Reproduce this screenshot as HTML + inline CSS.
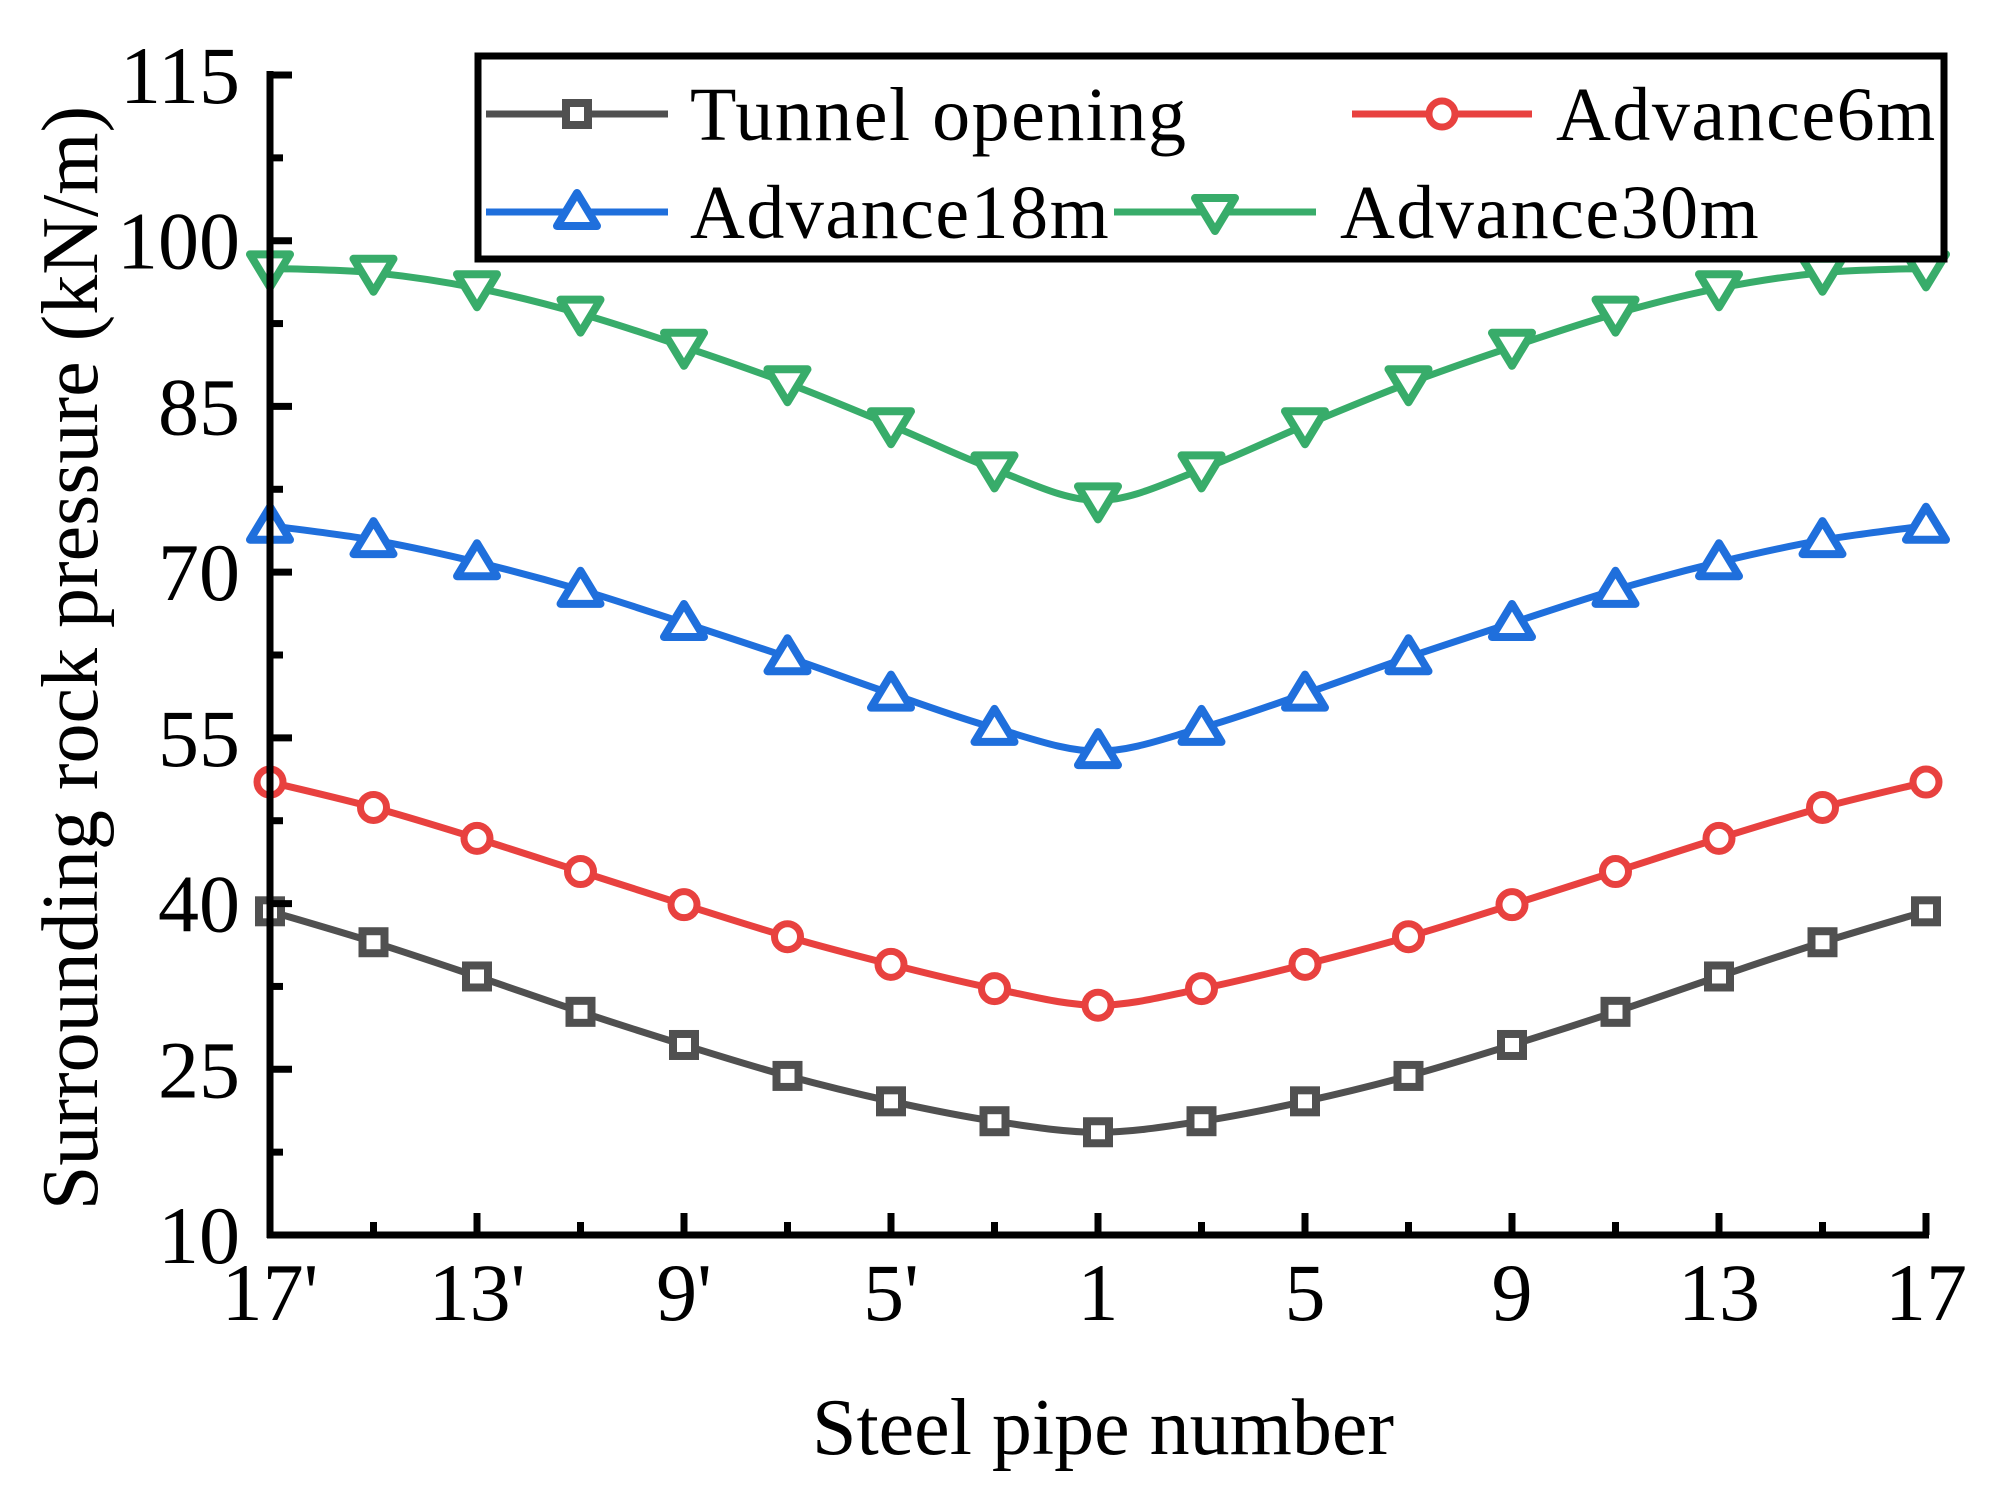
<!DOCTYPE html>
<html><head><meta charset="utf-8"><style>
html,body{margin:0;padding:0;background:#fff;}
svg{display:block;font-family:"Liberation Serif",serif;}
text{font-family:"Liberation Serif",serif;}
</style></head><body>
<svg id="chart" width="2007" height="1511" viewBox="0 0 2007 1511" xmlns="http://www.w3.org/2000/svg">
<g id="plot"></g>
<g id="axes"></g>
<g id="legend"></g>
</svg>
<script>
const categories = ["17'","15'","13'","11'","9'","7'","5'","3'","1","3","5","7","9","11","13","15","17"];
const xTickLabels = ["17'","13'","9'","5'","1","5","9","13","17"];
const yTicks = [10,25,40,55,70,85,100,115];
const tunnelOpening = [39.3,36.5,33.4,30.2,27.2,24.4,22.1,20.3,19.3,20.3,22.1,24.4,27.2,30.2,33.4,36.5,39.3];
const advance6m = [51.0,48.7,45.9,42.9,39.9,37.0,34.5,32.3,30.8,32.3,34.5,37.0,39.9,42.9,45.9,48.7,51.0];
const advance18m = [74.2,72.9,70.9,68.4,65.4,62.3,59.0,55.9,53.8,55.9,59.0,62.3,65.4,68.4,70.9,72.9,74.2];
const advance30m = [97.5,97.1,95.7,93.4,90.4,87.1,83.3,79.3,76.5,79.3,83.3,87.1,90.4,93.4,95.7,97.1,97.5];

const NS="http://www.w3.org/2000/svg";
const X0=270, X1=1926, Y0=1235, Y1=75, YMIN=10, YMAX=115;
function xs(i){return X0+(X1-X0)*i/(categories.length-1);}
function ys(v){return Y0-(v-YMIN)*(Y0-Y1)/(YMAX-YMIN);}
function mk(tag,attrs,parent){const e=document.createElementNS(NS,tag);for(const k in attrs)e.setAttribute(k,attrs[k]);parent.appendChild(e);return e;}
const plot=document.getElementById('plot'), axes=document.getElementById('axes'), legend=document.getElementById('legend');

function splinePath(pts){
  let d=`M${pts[0][0]},${pts[0][1]}`;
  for(let i=0;i<pts.length-1;i++){
    const p0=pts[Math.max(i-1,0)],p1=pts[i],p2=pts[i+1],p3=pts[Math.min(i+2,pts.length-1)];
    const c1=[p1[0]+(p2[0]-p0[0])/6,p1[1]+(p2[1]-p0[1])/6];
    const c2=[p2[0]-(p3[0]-p1[0])/6,p2[1]-(p3[1]-p1[1])/6];
    d+=` C${c1[0]},${c1[1]} ${c2[0]},${c2[1]} ${p2[0]},${p2[1]}`;
  }
  return d;
}
function marker(type,cx,cy,color,parent){
  let e;
  if(type==='square'){e=mk('rect',{x:cx-11,y:cy-11,width:22,height:22,fill:'#fff',stroke:color,'stroke-width':8},parent);}
  else if(type==='circle'){e=mk('circle',{cx:cx,cy:cy,r:13,fill:'#fff',stroke:color,'stroke-width':7},parent);}
  else if(type==='up'){e=mk('polygon',{points:`${cx},${cy-19} ${cx-20},${cy+14} ${cx+20},${cy+14}`,fill:'#fff',stroke:color,'stroke-width':8,'stroke-linejoin':'round'},parent);}
  else {e=mk('polygon',{points:`${cx},${cy+19} ${cx-20},${cy-14} ${cx+20},${cy-14}`,fill:'#fff',stroke:color,'stroke-width':8,'stroke-linejoin':'round'},parent);}
  return e;
}
const series=[
  {name:'tunnel-opening',label:'Tunnel opening',data:tunnelOpening,color:'#505050',m:'square'},
  {name:'advance-6m',label:'Advance6m',data:advance6m,color:'#e8413f',m:'circle'},
  {name:'advance-18m',label:'Advance18m',data:advance18m,color:'#1f6fdc',m:'up'},
  {name:'advance-30m',label:'Advance30m',data:advance30m,color:'#38ac6a',m:'down'}
];
series.forEach(s=>{
  const g=mk('g',{},plot);
  
  
  const pts=s.data.map((v,i)=>[xs(i),ys(v)]);
  const p=mk('path',{d:splinePath(pts),fill:'none',stroke:s.color,'stroke-width':7},g);
  
  
  pts.forEach(pt=>{
    const m=marker(s.m,pt[0],pt[1],s.color,g);
    
    
  });
});
// axes
const yl=mk('line',{x1:X0,y1:Y0+3,x2:X0,y2:Y1-4,stroke:'#000','stroke-width':7},axes);


const xl=mk('line',{x1:X0-3,y1:Y0,x2:X1+3,y2:Y0,stroke:'#000','stroke-width':7},axes);


yTicks.forEach((v,i)=>{
  const y=ys(v);
  const t=mk('line',{x1:X0,y1:y,x2:X0+22,y2:y,stroke:'#000','stroke-width':7},axes);
  
  
  if(i<yTicks.length-1){
    const ym=ys(v+7.5);
    const mt=mk('line',{x1:X0,y1:ym,x2:X0+13,y2:ym,stroke:'#000','stroke-width':7},axes);
    
    
  }
  const tx=mk('text',{x:240,y:y+28,'text-anchor':'end','font-size':82},axes);
  tx.textContent=v;
  
  
});
categories.forEach((c,i)=>{
  const x=xs(i), major=i%2===0;
  const t=mk('line',{x1:x,y1:Y0,x2:x,y2:Y0-(major?22:13),stroke:'#000','stroke-width':7},axes);
  
  
});
xTickLabels.forEach((lab,j)=>{
  const tx=mk('text',{x:xs(j*2),y:1320,'text-anchor':'middle','font-size':82},axes);
  tx.textContent=lab;
  
  
});
const xt=mk('text',{x:1103,y:1454,'text-anchor':'middle','font-size':80},axes);
xt.textContent='Steel pipe number';


const yt=mk('text',{x:0,y:0,'text-anchor':'middle','font-size':80,transform:'translate(97,658) rotate(-90)'},axes);
yt.textContent='Surrounding rock pressure (kN/m)';


// legend
const box=mk('rect',{x:478,y:56,width:1466,height:203,fill:'#fff',stroke:'#000','stroke-width':7},legend);


const lpos=[[486,668,114,690],[1352,1532,114,1556],[486,668,212,690],[1114,1316,212,1340]];
series.forEach((s,i)=>{
  const [a,b,y,tx]=lpos[i];
  const g=mk('g',{},legend);
  
  
  mk('line',{x1:a,y1:y,x2:b,y2:y,stroke:s.color,'stroke-width':7},g);
  marker(s.m,(a+b)/2,y,s.color,g);
  const t=mk('text',{x:tx,y:y+26,'font-size':76,'letter-spacing':1.5},g);
  t.textContent=s.label;
});
</script>
</body></html>
